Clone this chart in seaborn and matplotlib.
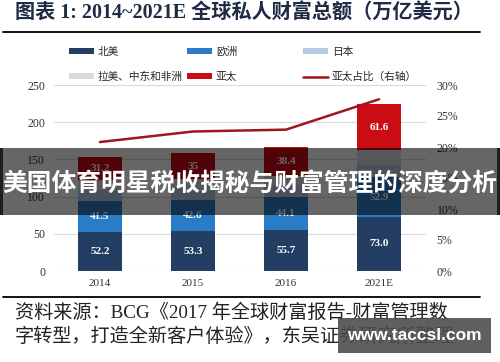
import matplotlib
matplotlib.use("Agg")
import matplotlib.pyplot as plt
from matplotlib.lines import Line2D
from matplotlib.patches import Rectangle
import numpy as np
import pandas as pd
import seaborn as sns

# data (万亿美元)
years = ["2014", "2015", "2016", "2021E"]
north_america = [52.2, 53.3, 55.7, 73.0]
europe = [41.5, 42.6, 44.1, 52.9]
japan = [14.9, 14.8, 15.2, 17.0]
latam_mea = [13.2, 12.7, 13.3, 19.5]
asia_pacific = [31.2, 35.0, 38.4, 61.6]
apac_share = [20.8, 22.5, 22.8, 27.7]  # percent, right axis

series_names = ["北美", "欧洲", "日本", "拉美、中东和非洲", "亚太"]
series_colors = ["#233d63", "#2b7cc7", "#b7c9e2", "#d9d9d9", "#cc0c14"]
line_name = "亚太占比（右轴）"
line_color = "#a3151d"

left_ticks = [0, 50, 100, 150, 200, 250]
right_ticks = [0, 5, 10, 15, 20, 25, 30]

title_text = "图表 1: 2014~2021E 全球私人财富总额（万亿美元）"
banner_text = "美国体育明星税收揭秘与财富管理的深度分析"
source_lines = ["资料来源：BCG《2017 年全球财富报告-财富管理数",
                "字转型，打造全新客户体验》，东吴证券研究所整理"]
watermark = "www.taccsl.com"

sns.set_style("white")
plt.rcParams["font.family"] = ["Liberation Serif", "Noto Sans CJK SC", "DejaVu Sans"]

W, H = 500, 362


def fx(px):
    return px / W


def fy(py):
    return 1 - py / H


df = pd.DataFrame({"year": years, "北美": north_america, "欧洲": europe,
                   "日本": japan, "拉美、中东和非洲": latam_mea, "亚太": asia_pacific})
tops = df[series_names].cumsum(axis=1)
bottoms = tops - df[series_names]

fig = plt.figure(figsize=(W / 100, H / 100), dpi=100)
ax = fig.add_axes([fx(53.5), fy(271), 372 / W, 186 / H])

# stacked bars: draw cumulative totals from the top series down
for name, color in reversed(list(zip(series_names, series_colors))):
    sns.barplot(x=df["year"], y=tops[name], color=color, saturation=1,
                width=0.48, linewidth=0, label=name, ax=ax)

for name, fmt in [("北美", ".1f"), ("欧洲", ".1f"), ("亚太", "g")]:
    for i, (b, v) in enumerate(zip(bottoms[name], df[name])):
        ax.text(i, b + v / 2, format(v, fmt), ha="center", va="center",
                color="white", fontsize=8, fontweight="bold",
                family="Liberation Serif")

handles, labels = ax.get_legend_handles_labels()
if ax.get_legend() is not None:
    ax.get_legend().remove()

ax.set_xlim(-0.5, 3.5)
ax.set_ylim(0, 250)
ax.set_yticks(left_ticks)
ax.set_xlabel("")
ax.set_ylabel("")
ax.yaxis.grid(True, color="#d9d9d9", lw=0.8)
ax.set_axisbelow(True)
ax.tick_params(axis="y", length=0, pad=6, labelsize=8.5, labelcolor="#333333")
ax.tick_params(axis="x", length=0, pad=6, labelsize=8, labelcolor="#333333")
sns.despine(ax=ax, left=True, bottom=True)

ax2 = ax.twinx()
sns.lineplot(x=np.arange(len(years)), y=apac_share, color=line_color, lw=1.8,
             label=line_name, legend=False, ax=ax2)
ax2.set_ylim(0, 30)
ax2.set_yticks(right_ticks)
ax2.set_yticklabels([f"{t}%" for t in right_ticks])
ax2.tick_params(axis="y", length=0, pad=8, labelsize=8.5, labelcolor="#333333")
ax2.grid(False)
ax2.set_ylabel("")
sns.despine(ax=ax2, left=True, bottom=True, right=True)

# legend in three fixed columns
lookup = dict(zip(labels, handles))
lookup[line_name] = ax2.lines[0]
columns = [["北美", "拉美、中东和非洲"], ["欧洲", "亚太"], ["日本", line_name]]
for col, x0 in zip(columns, [69, 187, 303]):
    fig.legend([lookup[n] for n in col], col, loc="center left",
               bbox_to_anchor=(fx(x0), fy(64.5)), frameon=False, ncol=1,
               borderpad=0, borderaxespad=0, handlelength=2.3,
               handleheight=0.5, handletextpad=0.4, labelspacing=1.4,
               prop={"family": ["Noto Sans CJK SC"], "size": 7.7})

# title and rules
fig.text(fx(15), fy(13), title_text, ha="left", va="center", fontsize=14.5,
         fontweight="bold", color="#1f2a44")
fig.add_artist(Line2D([fx(3), fx(480)], [fy(32), fy(32)], color="black", lw=1.3))
fig.add_artist(Line2D([fx(3), fx(480)], [fy(297), fy(297)], color="black", lw=1.3))

for line, y in zip(source_lines, [313, 337]):
    fig.text(fx(15), fy(y), line, ha="left", va="center", fontsize=13.8,
             color="#222222")

# watermark box
fig.add_artist(Rectangle((fx(338), fy(353)), 153 / W, 35 / H,
                         transform=fig.transFigure, facecolor="#4d4d4d",
                         alpha=0.9, edgecolor="none", zorder=10))
fig.text(fx(414.5), fy(336), watermark, ha="center", va="center",
         fontsize=12.5, fontweight="bold", color="white",
         family="Liberation Sans", zorder=11)

# overlay banner
fig.add_artist(Rectangle((0, fy(215)), 1, 67 / H, transform=fig.transFigure,
                         facecolor="black", alpha=0.6, edgecolor="none",
                         zorder=10))
for x0 in [0, 497]:
    fig.add_artist(Rectangle((fx(x0), fy(215)), 3 / W, 67 / H,
                             transform=fig.transFigure, facecolor="black",
                             alpha=0.7, edgecolor="none", zorder=10))
fig.text(0.5, fy(184), banner_text, ha="center", va="center", fontsize=17.8,
         fontweight="bold", color="white", family=["Noto Sans CJK SC"],
         zorder=11)

fig.savefig("out.png", dpi=100)
